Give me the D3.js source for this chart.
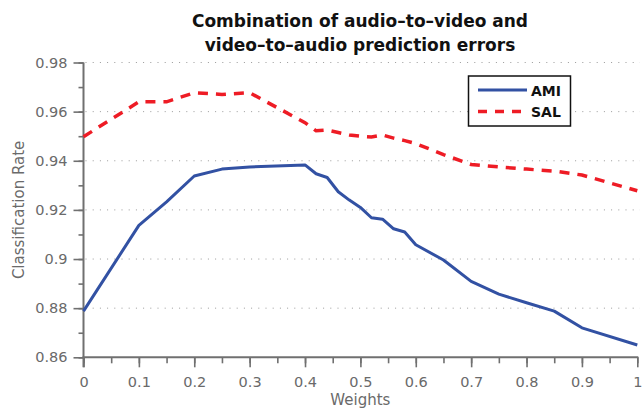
<!DOCTYPE html>
<html>
<head>
<meta charset="utf-8">
<script src="https://cdn.jsdelivr.net/npm/d3@7"></script>
<style>
  body { margin: 0; background: #fff; }
  text { font-family: "DejaVu Sans", sans-serif; }
</style>
</head>
<body>
<svg id="chart" width="644" height="409"></svg>
<script>
// Weight values at which both systems were evaluated
const weights = [0, 0.1, 0.15, 0.2, 0.25, 0.3, 0.4, 0.42, 0.44, 0.46, 0.48, 0.5, 0.52, 0.54, 0.56, 0.58, 0.6, 0.65, 0.7, 0.75, 0.8, 0.85, 0.9, 1];
// Classification rate per weight
const ami = [0.8788, 0.9137, 0.9233, 0.9338, 0.9366, 0.9375, 0.9383, 0.9347, 0.9332, 0.9274, 0.9240, 0.9210, 0.9168, 0.9162, 0.9123, 0.9110, 0.9058, 0.8996, 0.8909, 0.8857, 0.8822, 0.8788, 0.8720, 0.8650];
const sal = [0.9498, 0.9640, 0.9640, 0.9677, 0.9670, 0.9677, 0.9555, 0.9522, 0.9525, 0.9515, 0.9505, 0.9500, 0.9497, 0.9505, 0.9492, 0.9482, 0.9470, 0.9425, 0.9385, 0.9375, 0.9366, 0.9358, 0.9342, 0.9278];

const yTicks = [0.86, 0.88, 0.9, 0.92, 0.94, 0.96, 0.98];
const yTickLabels = ["0.86", "0.88", "0.9", "0.92", "0.94", "0.96", "0.98"];
const xTicks = [0, 0.1, 0.2, 0.3, 0.4, 0.5, 0.6, 0.7, 0.8, 0.9, 1];
const xTickLabels = ["0", "0.1", "0.2", "0.3", "0.4", "0.5", "0.6", "0.7", "0.8", "0.9", "1"];
const seriesNames = ["AMI", "SAL"];
const titleLines = ["Combination of audio\u2013to\u2013video and", "video\u2013to\u2013audio prediction errors"];
const xLabel = "Weights";
const yLabel = "Classification Rate";

const svg = d3.select("#chart");
const plotLeft = 83.5, plotRight = 637.3, plotTop = 62.5, plotBottom = 357.3;

const x = d3.scaleLinear().domain([0, 1]).range([plotLeft, plotRight]);
const y = d3.scaleLinear().domain([0.86, 0.98]).range([plotBottom, plotTop]);

const axisColor = "#707070";
const labelColor = "#6a6a6a";

// dotted horizontal grid
svg.append("g")
  .selectAll("line")
  .data(yTicks.slice(1))
  .join("line")
  .attr("x1", plotLeft + 2).attr("x2", 640)
  .attr("y1", d => y(d)).attr("y2", d => y(d))
  .attr("stroke", "#9a9a9a")
  .attr("stroke-width", 1)
  .attr("stroke-dasharray", "1,6.2");

// minor y ticks (0.01)
const yMinor = d3.range(0, 13).map(i => 0.86 + i * 0.01);
const gyMinor = svg.append("g")
  .attr("transform", `translate(${plotLeft},0)`)
  .call(d3.axisLeft(y).tickValues(yMinor).tickSize(5).tickFormat(""));
// major y ticks
const gy = svg.append("g")
  .attr("transform", `translate(${plotLeft},0)`)
  .call(d3.axisLeft(y).tickValues(yTicks).tickSize(10).tickPadding(6)
    .tickFormat((d, i) => yTickLabels[i]));

// minor x ticks (0.05)
const xMinor = d3.range(0, 21).map(i => i * 0.05);
const gxMinor = svg.append("g")
  .attr("transform", `translate(0,${plotBottom})`)
  .call(d3.axisBottom(x).tickValues(xMinor).tickSize(6).tickFormat(""));
// major x ticks
const gx = svg.append("g")
  .attr("transform", `translate(0,${plotBottom})`)
  .call(d3.axisBottom(x).tickValues(xTicks).tickSize(10).tickPadding(9)
    .tickFormat((d, i) => xTickLabels[i]));

[gy, gyMinor, gx, gxMinor].forEach(g => {
  g.select(".domain").remove();
  g.selectAll(".tick line").attr("stroke", axisColor).attr("stroke-width", 1.6);
  g.selectAll(".tick text")
    .attr("fill", labelColor)
    .style("font-family", "'DejaVu Sans', sans-serif")
    .style("font-size", "14.5px");
});

// axis lines
svg.append("line")
  .attr("x1", plotLeft).attr("x2", plotLeft)
  .attr("y1", plotTop).attr("y2", plotBottom + 10)
  .attr("stroke", axisColor).attr("stroke-width", 2);
svg.append("line")
  .attr("x1", plotLeft - 1).attr("x2", plotRight + 1)
  .attr("y1", plotBottom).attr("y2", plotBottom)
  .attr("stroke", axisColor).attr("stroke-width", 2);

// series lines
const line = d3.line()
  .x((d, i) => x(weights[i]))
  .y(d => y(d));

svg.append("path")
  .datum(ami)
  .attr("d", line)
  .attr("fill", "none")
  .attr("stroke", "#3251a3")
  .attr("stroke-width", 3)
  .attr("stroke-linejoin", "round");

svg.append("path")
  .datum(sal)
  .attr("d", line)
  .attr("fill", "none")
  .attr("stroke", "#ee1c25")
  .attr("stroke-width", 3.5)
  .attr("stroke-dasharray", "10,8");

// title
svg.append("g")
  .selectAll("text")
  .data(titleLines)
  .join("text")
  .attr("x", 360)
  .attr("y", (d, i) => 27 + i * 24)
  .attr("text-anchor", "middle")
  .attr("fill", "#111")
  .style("font-size", "17px")
  .style("font-weight", "bold")
  .text(d => d);

// axis titles
svg.append("text")
  .attr("x", (plotLeft + plotRight) / 2)
  .attr("y", 405)
  .attr("text-anchor", "middle")
  .attr("fill", labelColor)
  .style("font-size", "15px")
  .text(xLabel);

svg.append("text")
  .attr("transform", `translate(24,${(plotTop + plotBottom) / 2}) rotate(-90)`)
  .attr("text-anchor", "middle")
  .attr("fill", labelColor)
  .style("font-size", "15px")
  .text(yLabel);

// legend
const lg = svg.append("g");
lg.append("rect")
  .attr("x", 468.5).attr("y", 76)
  .attr("width", 102).attr("height", 50)
  .attr("fill", "#fff")
  .attr("stroke", "#111").attr("stroke-width", 1.5);
const legendStyles = [
  { color: "#3251a3", dash: null, w: 3 },
  { color: "#ee1c25", dash: "9,8", w: 3.5 }
];
seriesNames.forEach((name, i) => {
  const cy = 90 + i * 21.5;
  lg.append("line")
    .attr("x1", 478).attr("x2", 527)
    .attr("y1", cy).attr("y2", cy)
    .attr("stroke", legendStyles[i].color)
    .attr("stroke-width", legendStyles[i].w)
    .attr("stroke-dasharray", legendStyles[i].dash);
  lg.append("text")
    .attr("x", 531)
    .attr("y", cy + 5.5)
    .attr("fill", "#111")
    .style("font-size", "14px")
    .style("font-weight", "bold")
    .text(name);
});
</script>
</body>
</html>
